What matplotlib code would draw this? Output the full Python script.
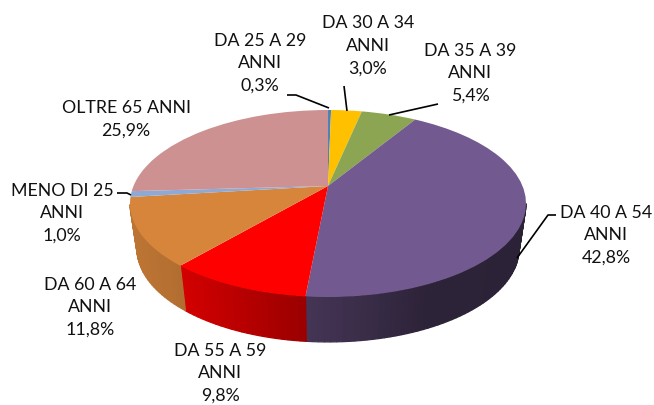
#!/usr/bin/python3
import matplotlib
matplotlib.use("Agg")
import matplotlib.pyplot as plt
from matplotlib.transforms import Transform
import numpy as np

# dati, dalle ore 12 in senso orario
categorie = ["DA 25 A 29\nANNI", "DA 30 A 34\nANNI", "DA 35 A 39\nANNI", "DA 40 A 54\nANNI",
             "DA 55 A 59\nANNI", "DA 60 A 64\nANNI", "MENO DI 25\nANNI", "OLTRE 65 ANNI"]
valori = [0.3, 3.0, 5.4, 42.8, 9.8, 11.8, 1.0, 25.9]
colori = ["#4F81BD", "#FFC000", "#8BA553", "#72598F", "#FF0000", "#D7853B", "#8FA9D5", "#CD9191"]

# posizione etichette in pixel
pos_etichette = [(260, 63), (368, 46), (470, 73), (606, 235), (220, 373), (90, 307), (62, 213), (126, 119)]

# linee guida
guide = [
    [(287, 95), (296, 95), (329, 108)],
    [(344, 86), (347, 111)],
    [(389, 115), (438, 104)],
    [(556, 215), (548, 215), (517, 258)],
    [(117, 193), (127, 193), (131, 195)],
]

# geometria della torta (pixel)
cx, cy = 328, 186
a, b = 90.2, 194.5
p = 0.187
spessore = 45
stringi = 0.965

# ombra del fianco in funzione della x
ombra_x = [130, 184, 305, 420, 526]
ombra_v = [0.88, 0.82, 0.60, 0.40, 0.38]


class Prospettiva(Transform):
    input_dims = 2
    output_dims = 2

    def transform_non_affine(self, xy):
        xy = np.asarray(xy, dtype=float)
        w = 1 + p * xy[:, 1]
        return np.column_stack((cx + b * xy[:, 0] / w, cy - a * xy[:, 1] / w))


prosp = Prospettiva()

fig = plt.figure(figsize=(6.54, 4.05), dpi=100)
ax = fig.add_axes([0, 0, 1, 1])

wedges, _ = ax.pie(valori, colors=colori, startangle=90, counterclock=False,
                   wedgeprops={"linewidth": 0, "zorder": 2})

for w, colore in zip(wedges, colori):
    w.set_transform(prosp + ax.transData)
    # fianco a strisce
    t = np.radians(np.linspace(w.theta1, w.theta2, max(2, int((w.theta2 - w.theta1) / 1.5) + 1)))
    t = t[np.sin(t) < -p]
    if len(t) < 2:
        continue
    sopra = prosp.transform_non_affine(np.column_stack((np.cos(t), np.sin(t))))
    sotto = sopra.copy()
    sotto[:, 0] = cx + stringi * (sopra[:, 0] - cx)
    sotto[:, 1] = sopra[:, 1] + spessore
    rgb = np.array(matplotlib.colors.to_rgb(colore))
    for i in range(len(t) - 1):
        c = rgb * np.interp(sopra[i, 0], ombra_x, ombra_v)
        ax.fill([sopra[i, 0], sopra[i + 1, 0], sotto[i + 1, 0], sotto[i, 0]],
                [sopra[i, 1], sopra[i + 1, 1], sotto[i + 1, 1], sotto[i, 1]],
                color=c, linewidth=0.9, zorder=1)

for g in guide:
    ax.plot([q[0] for q in g], [q[1] for q in g], color="black", linewidth=1.2, zorder=3,
            solid_capstyle="butt")

for nome, v, q in zip(categorie, valori, pos_etichette):
    testo = nome + "\n" + ("%.1f%%" % v).replace(".", ",")
    ax.text(q[0], q[1], testo, ha="center", va="center", family="Lato", fontsize=12.8,
            color="#111111", linespacing=1.5, zorder=4)

ax.set_aspect("auto")
ax.set_xlim(0, 654)
ax.set_ylim(405, 0)
ax.axis("off")

fig.savefig("out.png", dpi=100)
